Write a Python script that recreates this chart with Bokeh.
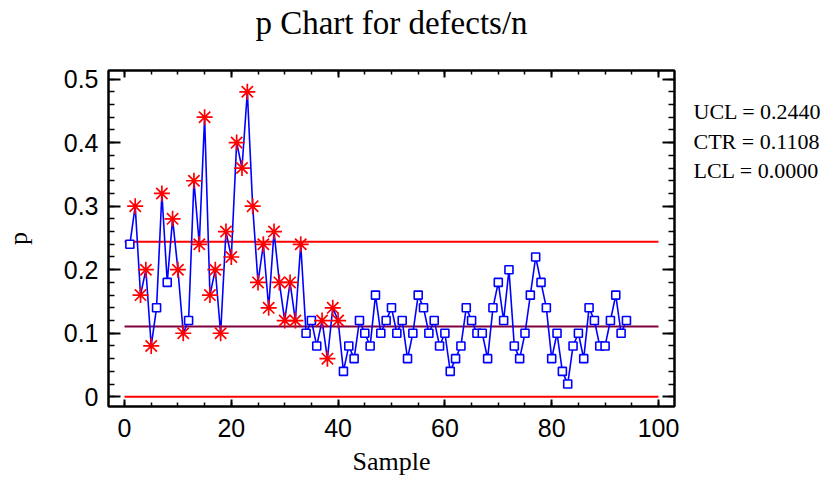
from bokeh.plotting import figure
from bokeh.layouts import column, row
from bokeh.models import LinearAxis, Range1d, FixedTicker, CustomJSTickFormatter
from bokeh.core.properties import value
from bokeh.embed import file_html
from bokeh.resources import INLINE

# ---- data ----
samples = list(range(1, 95))
p_values = [
    0.24, 0.30, 0.16, 0.20, 0.08, 0.14, 0.32, 0.18, 0.28, 0.20,
    0.10, 0.12, 0.34, 0.24, 0.44, 0.16, 0.20, 0.10, 0.26, 0.22,
    0.40, 0.36, 0.48, 0.30, 0.18, 0.24, 0.14, 0.26, 0.18, 0.12,
    0.18, 0.12, 0.24, 0.10, 0.12, 0.08, 0.12, 0.06, 0.14, 0.12,
    0.04, 0.08, 0.06, 0.12, 0.10, 0.08, 0.16, 0.10, 0.12, 0.14,
    0.10, 0.12, 0.06, 0.10, 0.16, 0.14, 0.10, 0.12, 0.08, 0.10,
    0.04, 0.06, 0.08, 0.14, 0.12, 0.10, 0.10, 0.06, 0.14, 0.18,
    0.12, 0.20, 0.08, 0.06, 0.10, 0.16, 0.22, 0.18, 0.14, 0.06,
    0.10, 0.04, 0.02, 0.08, 0.10, 0.06, 0.14, 0.12, 0.08, 0.08,
    0.12, 0.16, 0.10, 0.12,
]
flagged_samples = [2, 3, 4, 5, 7, 9, 10, 11] + list(range(13, 34)) + [37, 38, 39, 40]
UCL = 0.2440
CTR = 0.1108
LCL = 0.0
limit_x = [0, 100]
x_ticks = [0, 20, 40, 60, 80, 100]
y_ticks = [0, 0.1, 0.2, 0.3, 0.4, 0.5]
limit_texts = ["UCL = 0.2440", "CTR = 0.1108", "LCL = 0.0000"]
title_text = "p Chart for defects/n"

normal_x = [s for s in samples if s not in flagged_samples]
normal_y = [p_values[s - 1] for s in normal_x]
flag_y = [p_values[s - 1] for s in flagged_samples]

SERIF = "Liberation Serif"
SANS = "Liberation Sans"

W, H = 822, 478
TOP = 60          # height of title strip
PW = 680          # width of main plot canvas
FL, FT, FR, FB = 108, 70, 674, 406  # frame edges in full-canvas px


def text_strip(width, height, yr, **borders):
    f = figure(width=width, height=height, output_backend="svg", toolbar_location=None,
               x_range=Range1d(0, width), y_range=yr,
               x_axis_type=None, y_axis_type=None, **borders)
    f.title.visible = False
    f.grid.visible = False
    f.outline_line_color = None
    f.border_fill_color = "white"
    f.background_fill_color = "white"
    return f


# ---- title strip ----
top = text_strip(W, TOP, Range1d(TOP, 0), min_border=0)
top.text(x=[(FL + FR) / 2], y=[22.5], text=[title_text], text_font=value(SERIF),
         text_font_size="33px", text_align="center", text_baseline="alphabetic",
         text_color="black")

# ---- main chart ----
p = figure(width=PW, height=H - TOP, output_backend="svg", toolbar_location=None,
           x_range=Range1d(-3, 103), y_range=Range1d(-0.0153, 0.5135),
           min_border_left=FL, min_border_right=PW - FR, min_border_top=FT - TOP,
           min_border_bottom=H - FB,
           x_axis_label="Sample", y_axis_label="p")
p.title.visible = False
p.grid.visible = False
p.outline_line_color = "black"
p.outline_line_width = 2
p.background_fill_color = "white"
p.border_fill_color = "white"

bottom_axis = p.below[0]
left_axis = p.left[0]

xt = FixedTicker(ticks=x_ticks, minor_ticks=list(range(0, 101, 5)))
yt = FixedTicker(ticks=y_ticks, minor_ticks=[i / 50 for i in range(0, 26)])

right_axis = LinearAxis()
top_axis = LinearAxis()
p.add_layout(right_axis, "right")
p.add_layout(top_axis, "above")

blank = CustomJSTickFormatter(code="return '';")
for ax in [bottom_axis, top_axis]:
    ax.ticker = xt
    ax.major_tick_in = 7
    ax.major_tick_out = 0
    ax.minor_tick_in = 4
    ax.minor_tick_out = 0
for ax in [left_axis, right_axis]:
    ax.ticker = yt
    ax.major_tick_in = 12
    ax.major_tick_out = 0
    ax.minor_tick_in = 6
    ax.minor_tick_out = 0
for ax in [bottom_axis, top_axis, left_axis, right_axis]:
    ax.axis_line_width = 2
    ax.major_tick_line_width = 2
    ax.minor_tick_line_width = 1.5
    ax.major_label_text_font = SANS
    ax.major_label_text_font_size = "25px"
    ax.major_label_text_color = "black"
    ax.axis_label_text_font = SERIF
    ax.axis_label_text_font_size = "26px"
    ax.axis_label_text_font_style = "normal"
    ax.axis_label_text_color = "black"
for ax in [top_axis, right_axis]:
    ax.formatter = blank
    ax.major_label_text_font_size = "1px"
    ax.major_label_standoff = 0

bottom_axis.major_label_standoff = 12
bottom_axis.axis_label_standoff = 7
left_axis.major_label_standoff = 10
left_axis.axis_label_standoff = 28

# control limits
p.line(limit_x, [UCL, UCL], line_color="#ff0000", line_width=2)
p.line(limit_x, [CTR, CTR], line_color="#800040", line_width=2)
p.line(limit_x, [LCL, LCL], line_color="#ff0000", line_width=2)

# data
p.line(samples, p_values, line_color="#0000ff", line_width=1.6)
p.scatter(normal_x, normal_y, marker="square", size=8, line_color="#0000ff",
          fill_color="white", line_width=1.6)
p.scatter(flagged_samples, flag_y, marker="asterisk", size=16, line_color="#ff0000",
          line_width=1.7)

# ---- limit texts strip on the right (frame aligned with main chart frame) ----
side = text_strip(W - PW, H - TOP, Range1d(FB, FT),
                  min_border_left=0, min_border_right=0,
                  min_border_top=FT - TOP, min_border_bottom=H - FB)
side.text(x=[693 - PW] * 3, y=[111.3, 140.8, 170.0], text=limit_texts,
          text_font=value(SERIF), text_font_size="22px", text_align="left",
          text_baseline="alphabetic", text_color="black")

layout = column(top, row(p, side, spacing=0), spacing=0)
open("out.html", "w").write(file_html(layout, INLINE))
